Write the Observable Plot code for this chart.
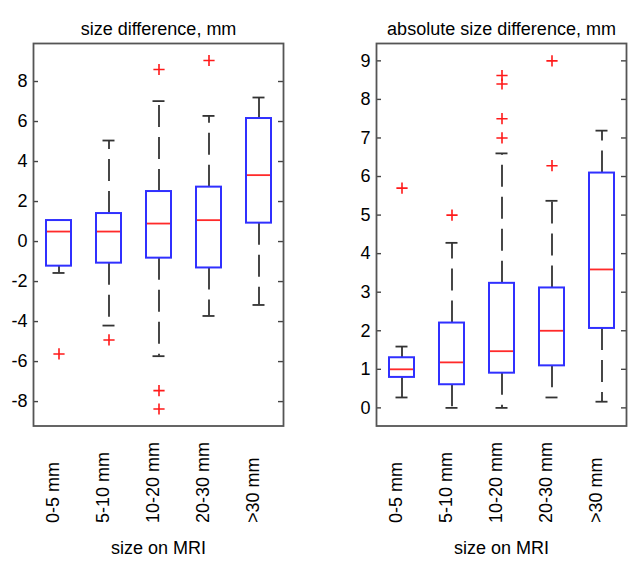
<!DOCTYPE html>
<html>
<head>
<meta charset="utf-8">
<script src="https://cdn.jsdelivr.net/npm/d3@7"></script>
<script src="https://cdn.jsdelivr.net/npm/@observablehq/plot@0.6"></script>
<style>
  html, body { margin: 0; padding: 0; background: white; }
  #wrap { display: flex; width: 629px; height: 562px; }
</style>
</head>
<body>
<div id="wrap"></div>
<script>
// ---- data ----
const categories = ["0-5 mm", "5-10 mm", "10-20 mm", "20-30 mm", ">30 mm"];

// left panel: size difference, mm
const diffQ1     = [-1.23, -1.08, -0.83, -1.32, 0.92];
const diffMedian = [0.5, 0.5, 0.9, 1.07, 3.32];
const diffQ3     = [1.05, 1.4, 2.5, 2.72, 6.15];
const diffLow    = [-1.57, -4.2, -5.73, -3.72, -3.17];
const diffHigh   = [1.05, 5.05, 7.02, 6.28, 7.2];
const diffOutlierCats   = ["0-5 mm", "5-10 mm", "10-20 mm", "10-20 mm", "10-20 mm", "20-30 mm"];
const diffOutlierValues = [-5.62, -4.92, 8.6, -7.45, -8.37, 9.05];
const diffTicks = [-8, -6, -4, -2, 0, 2, 4, 6, 8];

// right panel: absolute size difference, mm
const absQ1     = [0.79, 0.6, 0.9, 1.09, 2.06];
const absMedian = [1.0, 1.18, 1.47, 2.0, 3.59];
const absQ3     = [1.3, 2.2, 3.23, 3.11, 6.09];
const absLow    = [0.27, 0, 0, 0.27, 0.16];
const absHigh   = [1.59, 4.28, 6.6, 5.37, 7.19];
const absOutlierCats   = ["0-5 mm", "5-10 mm", "10-20 mm", "10-20 mm", "10-20 mm", "10-20 mm", "20-30 mm", "20-30 mm"];
const absOutlierValues = [5.7, 5.0, 7.0, 7.5, 8.4, 8.62, 9.0, 6.28];
const absTicks = [0, 1, 2, 3, 4, 5, 6, 7, 8, 9];

const titles = ["size difference, mm", "absolute size difference, mm"];
const xLabel = "size on MRI";

// ---- drawing ----
function panel({title, q1, med, q3, lo, hi, oCats, oVals, yDomain, yTicks, width, marginLeft, marginRight}) {
  const rows = categories.map((c, i) => ({cat: c, q1: q1[i], med: med[i], q3: q3[i], lo: lo[i], hi: hi[i]}));
  const outs = oCats.map((c, i) => ({cat: c, v: oVals[i]}));
  const whiskerColor = "#333";
  return Plot.plot({
    width, height: 562,
    marginTop: 43, marginBottom: 136.5, marginLeft, marginRight,
    style: {fontFamily: "'Liberation Sans', Arial, sans-serif", fontSize: "18px", color: "black", background: "white", overflow: "visible"},
    x: {type: "band", domain: categories, paddingInner: 0.5, paddingOuter: 0.25, axis: null},
    y: {domain: yDomain, axis: null},
    marks: [
      // whiskers
      Plot.ruleX(rows, {x: "cat", y1: "q3", y2: "hi", stroke: whiskerColor, strokeWidth: 1.8, strokeDasharray: "22,10"}),
      Plot.ruleX(rows, {x: "cat", y1: "q1", y2: "lo", stroke: whiskerColor, strokeWidth: 1.8, strokeDasharray: "22,10"}),
      // caps
      Plot.tickY(rows, {x: "cat", y: "hi", stroke: whiskerColor, strokeWidth: 1.8, insetLeft: 6.5, insetRight: 6.5}),
      Plot.tickY(rows, {x: "cat", y: "lo", stroke: whiskerColor, strokeWidth: 1.8, insetLeft: 6.5, insetRight: 6.5}),
      // boxes
      Plot.barY(rows, {x: "cat", y1: "q1", y2: "q3", fill: "white", stroke: "#3030ff", strokeWidth: 2}),
      // medians
      Plot.tickY(rows, {x: "cat", y: "med", stroke: "#ff2a2a", strokeWidth: 1.8, insetLeft: 1, insetRight: 1}),
      // outliers
      Plot.dot(outs, {x: "cat", y: "v", symbol: "plus", r: 3.7, stroke: "#ff1a1a", strokeWidth: 1.6}),
      // y tick marks (inward, both sides)
      Plot.ruleY(yTicks, {y: d => d, stroke: "#444", strokeWidth: 1.4, insetRight: 245}),
      Plot.ruleY(yTicks, {y: d => d, stroke: "#444", strokeWidth: 1.4, insetLeft: 245}),
      // y tick labels
      Plot.axisY(yTicks, {anchor: "left", tickSize: 0, tickPadding: 6, tickFormat: d => String(d).replace("−", "-")}),
      // frame
      Plot.frame({stroke: "#555", strokeWidth: 1.8}),
      // title
      Plot.text([title], {frameAnchor: "top", dy: -21, text: d => d, fontSize: 18}),
      // rotated category labels
      Plot.text(categories, {x: d => d, frameAnchor: "bottom", dy: 97, rotate: -90, textAnchor: "start", text: d => d, fontSize: 18}),
      // x label
      Plot.text([xLabel], {frameAnchor: "bottom", dy: 127.5, text: d => d, fontSize: 18})
    ]
  });
}

const wrap = document.getElementById("wrap");
wrap.appendChild(panel({
  title: titles[0], q1: diffQ1, med: diffMedian, q3: diffQ3, lo: diffLow, hi: diffHigh,
  oCats: diffOutlierCats, oVals: diffOutlierValues,
  yDomain: [-9.22, 9.9], yTicks: diffTicks, width: 320, marginLeft: 33, marginRight: 37
}));
wrap.appendChild(panel({
  title: titles[1], q1: absQ1, med: absMedian, q3: absQ3, lo: absLow, hi: absHigh,
  oCats: absOutlierCats, oVals: absOutlierValues,
  yDomain: [-0.47, 9.45], yTicks: absTicks, width: 309, marginLeft: 56, marginRight: 3
}));
</script>
</body>
</html>
